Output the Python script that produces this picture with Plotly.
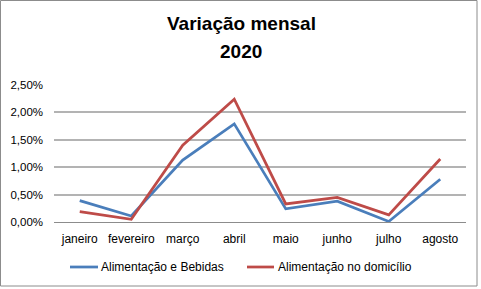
import plotly.graph_objects as go

meses = ["janeiro", "fevereiro", "março", "abril", "maio", "junho", "julho", "agosto"]
alim_bebidas = [0.0039, 0.0011, 0.0113, 0.0179, 0.0024, 0.0038, 0.0001, 0.0078]
alim_domicilio = [0.0019, 0.0005, 0.0140, 0.0224, 0.0033, 0.0045, 0.0013, 0.0115]
y_ticks = [0, 0.005, 0.01, 0.015, 0.02, 0.025]
series_names = ["Alimentação e Bebidas", "Alimentação no domicílio"]
series_colors = ["#4A7EBB", "#BE4B48"]

W, H = 481, 289
L, R, T, B = 54, 15, 85, 67
pw, ph = W - L - R, H - T - B

font = "Liberation Sans, Arial, sans-serif"

fig = go.Figure()
for vals, name, col in zip([alim_bebidas, alim_domicilio], series_names, series_colors):
    fig.add_trace(go.Scatter(x=meses, y=vals, mode="lines", name=name,
                             line=dict(color=col, width=2.75), showlegend=False))

def px2paper_x(px):
    return (px - L) / pw

def px2paper_y(py):
    return (H - B - py) / ph

# outer chart border
fig.add_shape(type="rect", xref="paper", yref="paper",
              x0=px2paper_x(0.5), x1=px2paper_x(477), y0=px2paper_y(0.5), y1=px2paper_y(286),
              line=dict(color="#8C8C8C", width=1), layer="below")

fig.add_annotation(text="<b>Variação mensal</b>", xref="paper", yref="paper",
                   x=px2paper_x(241), y=px2paper_y(23), showarrow=False,
                   font=dict(family=font, size=19, color="#000000"), xanchor="center", yanchor="middle")
fig.add_annotation(text="<b>2020</b>", xref="paper", yref="paper",
                   x=px2paper_x(241), y=px2paper_y(52), showarrow=False,
                   font=dict(family=font, size=19, color="#000000"), xanchor="center", yanchor="middle")

# manual legend
leg_y = 267
for (x0, x1, tx), name, col in zip([(70, 98, 99), (247, 274, 276)], series_names, series_colors):
    fig.add_shape(type="line", xref="paper", yref="paper",
                  x0=px2paper_x(x0), x1=px2paper_x(x1), y0=px2paper_y(leg_y), y1=px2paper_y(leg_y),
                  line=dict(color=col, width=2.75))
    fig.add_annotation(text=name, xref="paper", yref="paper", x=px2paper_x(tx), y=px2paper_y(leg_y),
                       showarrow=False, xanchor="left", yanchor="middle",
                       font=dict(family=font, size=12, color="#000000"))

fig.update_layout(
    width=W, height=H,
    margin=dict(l=L, r=R, t=T, b=B),
    paper_bgcolor="white", plot_bgcolor="white",
    font=dict(family=font, size=12, color="#000000"),
    showlegend=False,
    xaxis=dict(showgrid=False, showline=True, linecolor="#8C8C8C", linewidth=1, range=[-0.5, 7.5],
               ticks="", tickfont=dict(size=12), ticklabelstandoff=6, zeroline=False, automargin=False),
    yaxis=dict(range=[0, 0.025], tickvals=y_ticks, tickformat=".2%", showgrid=True,
               gridcolor="#B3B3B3", gridwidth=1.5, showline=False, zeroline=False, automargin=False,
               ticks="", tickfont=dict(size=11.5), ticklabelstandoff=10),
    separators=",.",
)

fig.write_html("out.html")
